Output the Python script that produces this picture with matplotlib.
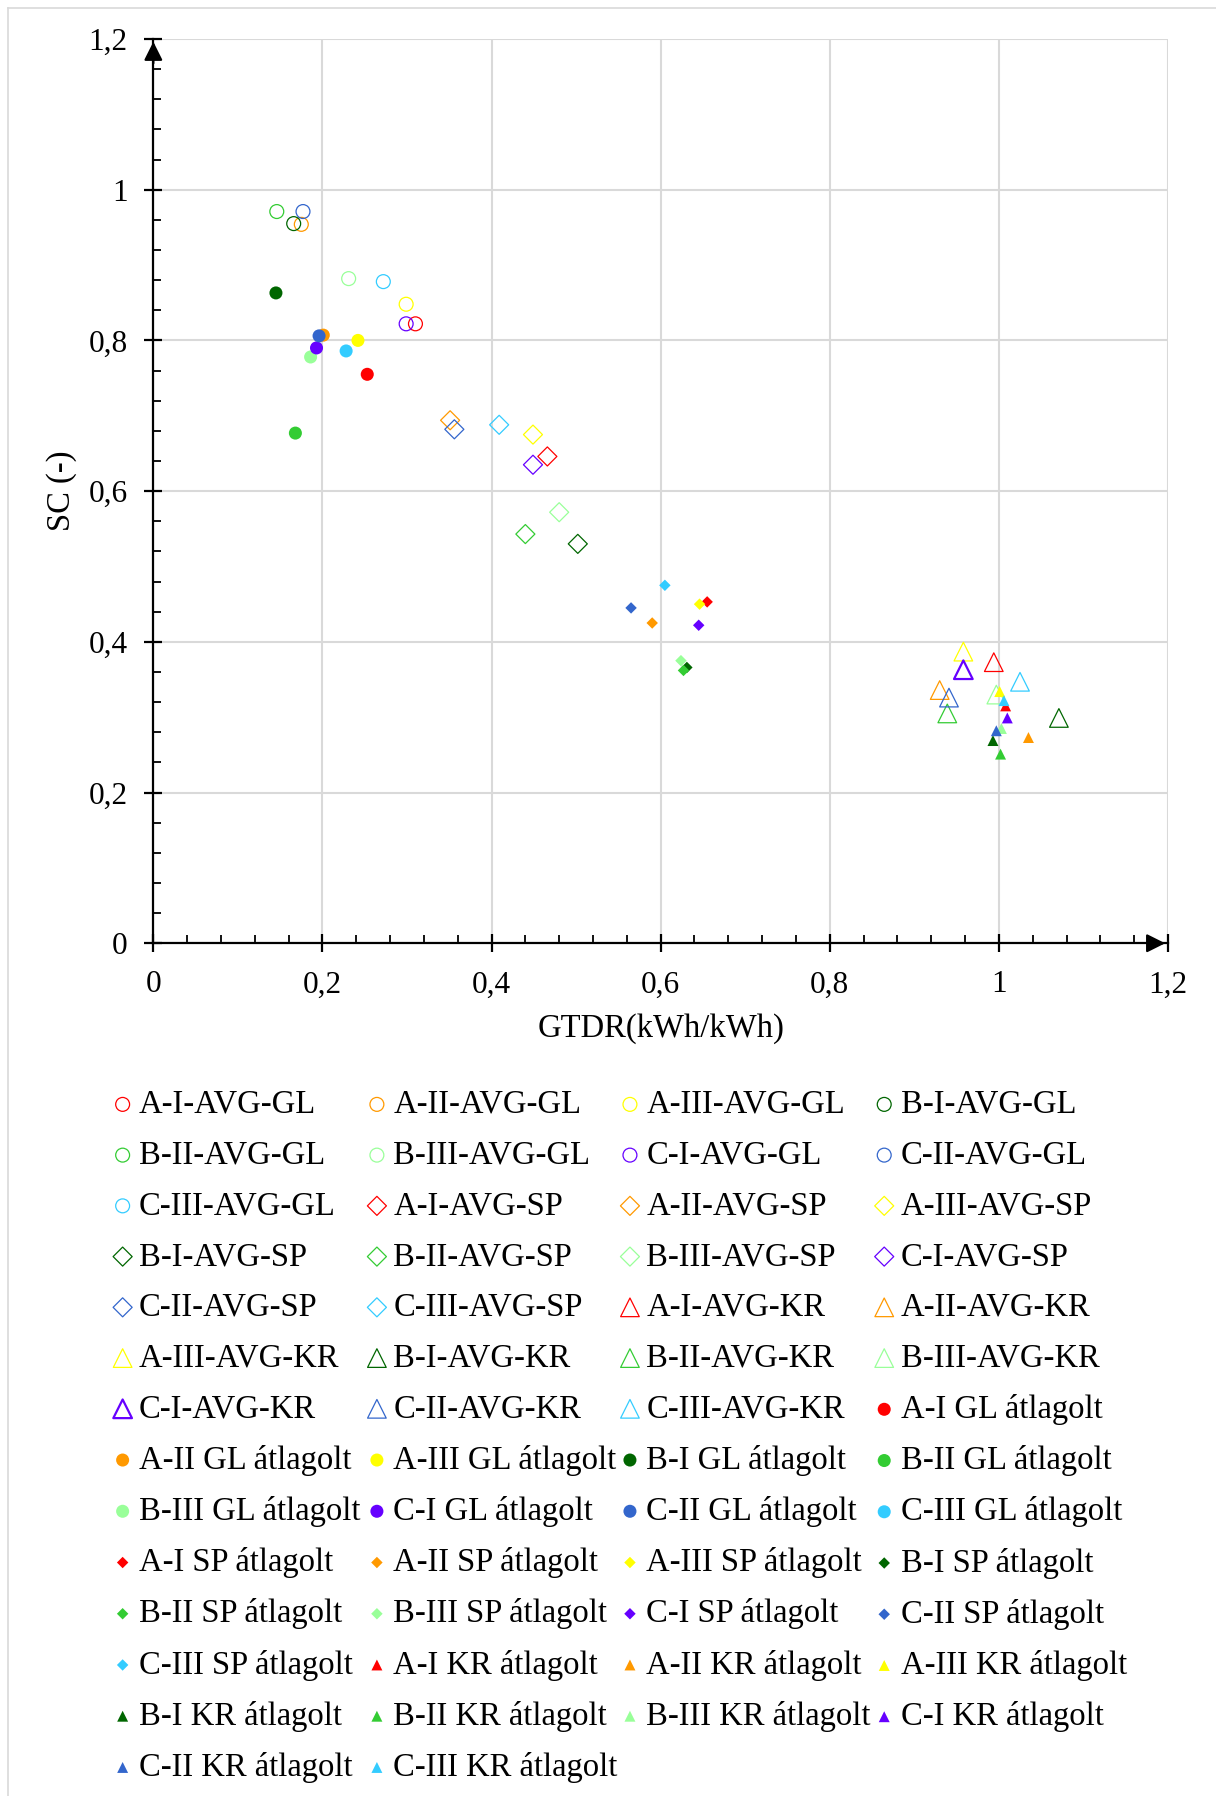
import matplotlib.pyplot as plt
from matplotlib.ticker import MultipleLocator, FuncFormatter
from matplotlib.lines import Line2D

plt.rcParams['font.family'] = ['Liberation Serif', 'DejaVu Serif']

# cases and their colours
cases = ['A-I', 'A-II', 'A-III', 'B-I', 'B-II', 'B-III', 'C-I', 'C-II', 'C-III']
colors = ['#FF0000', '#FF9900', '#FFFF00', '#006600', '#33CC33',
          '#99FF99', '#6600FF', '#3366CC', '#33CCFF']

# AVG series (open markers)
gl_avg_x = [0.310, 0.175, 0.299, 0.166, 0.146, 0.231, 0.299, 0.177, 0.272]
gl_avg_y = [0.822, 0.954, 0.848, 0.955, 0.971, 0.882, 0.822, 0.971, 0.878]
sp_avg_x = [0.466, 0.351, 0.449, 0.502, 0.440, 0.480, 0.449, 0.356, 0.409]
sp_avg_y = [0.646, 0.694, 0.675, 0.530, 0.543, 0.572, 0.635, 0.682, 0.688]
kr_avg_x = [0.994, 0.930, 0.958, 1.071, 0.939, 0.997, 0.958, 0.941, 1.025]
kr_avg_y = [0.373, 0.336, 0.387, 0.299, 0.305, 0.330, 0.363, 0.326, 0.347]

# averaged ("átlagolt") series (filled markers)
gl_atl_x = [0.253, 0.201, 0.242, 0.145, 0.168, 0.186, 0.193, 0.196, 0.228]
gl_atl_y = [0.755, 0.807, 0.800, 0.863, 0.677, 0.778, 0.790, 0.806, 0.786]
sp_atl_x = [0.655, 0.590, 0.646, 0.631, 0.627, 0.624, 0.645, 0.565, 0.605]
sp_atl_y = [0.453, 0.425, 0.450, 0.366, 0.362, 0.375, 0.422, 0.445, 0.475]
kr_atl_x = [1.008, 1.035, 1.001, 0.993, 1.002, 1.003, 1.010, 0.997, 1.006]
kr_atl_y = [0.315, 0.273, 0.334, 0.269, 0.251, 0.285, 0.299, 0.282, 0.322]

series = [
    (gl_avg_x, gl_avg_y, 'o', False, 100, '{}-AVG-GL'),
    (sp_avg_x, sp_avg_y, 'D', False, 94, '{}-AVG-SP'),
    (kr_avg_x, kr_avg_y, '^', False, 180, '{}-AVG-KR'),
    (gl_atl_x, gl_atl_y, 'o', True, 88, '{} GL átlagolt'),
    (sp_atl_x, sp_atl_y, 'D', True, 34, '{} SP átlagolt'),
    (kr_atl_x, kr_atl_y, '^', True, 62, '{} KR átlagolt'),
]

fig = plt.figure(figsize=(12.16, 17.96), dpi=100)
ax = fig.add_axes([0.1261, 0.4748, 0.8344, 0.5035])

handles = []
labels = []
for xs, ys, marker, filled, size, fmt in series:
    for i, case in enumerate(cases):
        if filled:
            h = ax.scatter(xs[i], ys[i], s=size, marker=marker, color=colors[i],
                           edgecolors='none', zorder=3, clip_on=False)
        else:
            lw = 1.6 if (marker == '^' and case == 'C-I') else 0.9
            h = ax.scatter(xs[i], ys[i], s=size, marker=marker,
                           facecolors='none', edgecolors=colors[i],
                           linewidths=lw, zorder=3, clip_on=False)
        handles.append(h)
        labels.append(fmt.format(case))

ax.set_xlim(0, 1.2)
ax.set_ylim(0, 1.2)
ax.xaxis.set_major_locator(MultipleLocator(0.2))
ax.yaxis.set_major_locator(MultipleLocator(0.2))
ax.xaxis.set_minor_locator(MultipleLocator(0.04))
ax.yaxis.set_minor_locator(MultipleLocator(0.04))
comma = FuncFormatter(lambda v, p: f'{v:.1f}'.rstrip('0').rstrip('.').replace('.', ','))
ax.xaxis.set_major_formatter(comma)
ax.yaxis.set_major_formatter(comma)
ax.grid(True, which='major', color='#D9D9D9', linewidth=1.5, zorder=0)
ax.set_axisbelow(True)

for side in ['top', 'right']:
    ax.spines[side].set_visible(False)
for side in ['left', 'bottom']:
    ax.spines[side].set_linewidth(1.6)
ax.tick_params(which='major', direction='inout', length=13, width=1.6,
               labelsize=22.5)
ax.tick_params(axis='x', which='major', pad=13)
ax.tick_params(axis='y', which='major', pad=12)
ax.tick_params(which='minor', direction='in', length=5.5, width=1.3)

# arrows at the axis ends
ax.annotate('', xy=(0, 1.0), xytext=(0, 0.97), xycoords='axes fraction',
            arrowprops=dict(arrowstyle='-|>', color='black', lw=1.6,
                            mutation_scale=28))
ax.annotate('', xy=(1.0, 0), xytext=(0.98, 0), xycoords='axes fraction',
            arrowprops=dict(arrowstyle='-|>', color='black', lw=1.6,
                            mutation_scale=28))

ax.set_xlabel('GTDR(kWh/kWh)', fontsize=23.5)
ax.set_ylabel('SC (-)', fontsize=23.5)
ax.xaxis.set_label_coords(0.5, -0.077)
ax.yaxis.set_label_coords(-0.075, 0.5)

# legend: four columns, filled row by row
col_left = [0.0928, 0.3019, 0.5100, 0.7191]
for c in range(4):
    hs = handles[c::4]
    ls = labels[c::4]
    fig.legend(hs, ls, loc='upper left', bbox_to_anchor=(col_left[c], 0.3934),
               frameon=False, fontsize=23.5, borderpad=0, borderaxespad=0,
               handlelength=0.6, handletextpad=0.2, labelspacing=0.62,
               scatterpoints=1)

# thin frame on the left and top edges
fig.add_artist(Line2D([0.0066, 0.0066], [0, 0.9955], color='#D9D9D9', lw=1.2))
fig.add_artist(Line2D([0.0066, 1], [0.9955, 0.9955], color='#D9D9D9', lw=1.2))

fig.savefig('out.png', dpi=100)
